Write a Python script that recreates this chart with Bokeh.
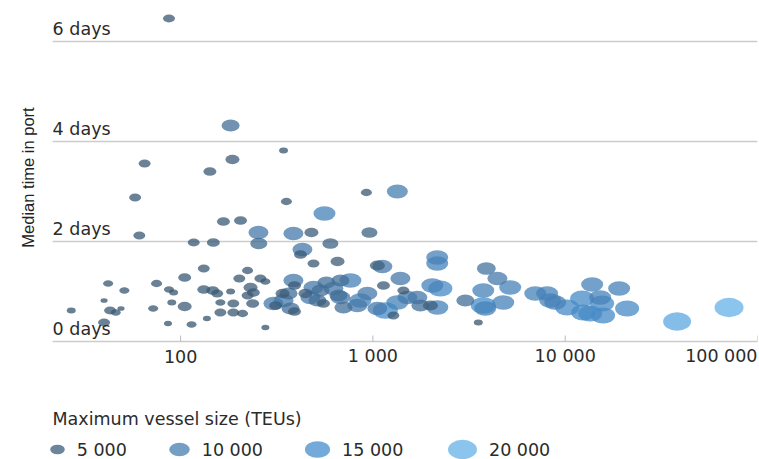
import numpy as np
import pandas as pd
from bokeh.plotting import figure
from bokeh.models import ColumnDataSource, Range1d, FixedTicker
from bokeh.layouts import column
from bokeh.core.properties import value
from bokeh.embed import file_html
from bokeh.resources import INLINE

# ---------------- data ----------------
port_calls = [87, 182, 65, 142, 186, 343, 58, 355, 925, 1340,
              560, 167, 205, 61, 254, 386, 479, 959, 117, 148,
              255, 601, 430, 420, 491, 655, 1055, 132, 223, 1120,
              2160, 2160, 3890, 4440, 27, 40, 42, 51, 40, 43,
              46, 49, 75, 87, 92, 72, 90, 105, 105, 86,
              114, 137, 132, 147, 155, 161, 161, 182, 188, 188,
              202, 210, 223, 231, 239, 237, 260, 276, 276, 304,
              312, 339, 364, 373, 391, 386, 391, 446, 473, 515,
              534, 553, 573, 623, 662, 678, 703, 764, 830, 861,
              936, 1055, 1135, 1161, 1278, 1390, 1440, 1340, 1511, 1703,
              1766, 1990, 2163, 2243, 2037, 3025, 3533, 3750, 3750, 3840,
              4764, 5176, 6985, 8055, 8356, 8870, 10240, 12250, 12400, 13810,
              15200, 15560, 13490, 15740, 19080, 20990, 38190, 71120, 491, 343,
              678]

median_days = [6.46, 4.32, 3.56, 3.40, 3.64, 3.82, 2.88, 2.80, 2.98, 3.00,
               2.56, 2.40, 2.42, 2.12, 2.18, 2.16, 2.18, 2.18, 1.98, 1.98,
               1.96, 1.96, 1.84, 1.74, 1.56, 1.60, 1.52, 1.46, 1.42, 1.50,
               1.68, 1.56, 1.46, 1.26, 0.62, 0.82, 1.16, 1.02, 0.38, 0.62,
               0.58, 0.66, 1.16, 1.04, 0.98, 0.66, 0.78, 1.28, 0.70, 0.36,
               0.34, 0.46, 1.04, 1.02, 0.96, 0.78, 0.58, 1.00, 0.76, 0.58,
               1.26, 0.56, 0.92, 1.08, 0.98, 0.76, 1.26, 1.20, 0.28, 0.76,
               0.72, 0.96, 0.96, 0.66, 0.60, 1.22, 1.12, 0.96, 0.88, 0.82,
               1.02, 0.76, 1.18, 1.06, 0.92, 1.22, 0.68, 1.22, 0.72, 0.82,
               0.96, 0.66, 1.12, 0.62, 0.52, 1.26, 1.02, 0.78, 0.88, 0.88,
               0.72, 0.72, 0.68, 1.06, 1.12, 0.82, 0.38, 1.02, 0.72, 0.66,
               0.78, 1.08, 0.96, 0.96, 0.82, 0.78, 0.68, 0.86, 0.58, 1.14,
               0.88, 0.76, 0.56, 0.52, 1.06, 0.66, 0.40, 0.68, 1.08, 0.82,
               0.88]

max_teu = [3400, 7700, 3400, 4000, 4700, 1900, 3400, 2900, 2900, 10500,
           11500, 4000, 4000, 3400, 9500, 9500, 4700, 6100, 3400, 4000,
           6900, 6100, 9500, 4000, 3400, 4700, 5400, 3400, 2900, 9500,
           11500, 11500, 8500, 9500, 1900, 1200, 2400, 2400, 3400, 3400,
           2400, 1200, 2900, 2400, 1900, 2400, 1900, 4000, 4700, 1500,
           2400, 1500, 4000, 4000, 3400, 2400, 3400, 1900, 3400, 3400,
           3400, 2900, 3400, 4700, 4000, 4000, 3400, 2400, 1500, 9500,
           4000, 4700, 7700, 7700, 4000, 9500, 4000, 4700, 9500, 7700,
           7700, 4000, 7700, 9500, 7700, 7700, 7700, 11500, 9500, 11500,
           9500, 9500, 4000, 14900, 3400, 9500, 3400, 11500, 9500, 9500,
           7700, 5400, 11500, 13700, 11500, 7700, 1900, 11500, 14900, 11500,
           11500, 11500, 11500, 11500, 11500, 11500, 13700, 13700, 13700, 11500,
           11500, 13700, 13700, 13700, 11500, 13700, 18600, 20000, 9500, 9500,
           9500]

x_ticks = [100, 1000, 10000, 100000]
y_ticks = [0, 2, 4, 6]
legend_teu = [5000, 10000, 15000, 20000]
y_axis_title = "Median time in port"
legend_title = "Maximum vessel size (TEUs)"

# ---------------- styling helpers ----------------
FONT = "DejaVu Sans"
FS = "17.5px"
TXT = "#2b2b2b"
GRID = "#cccccc"
RAMP_TEU = [0, 5000, 10000, 15000, 20000]
RAMP_RGB = [(52, 80, 104), (60, 92, 120), (70, 125, 175), (68, 142, 205), (100, 178, 232)]
ALPHA = 0.75
PX_PER_DAY = 50.0
TICK_PX = 6
FRAME_L, FRAME_R = 44, 2          # page borders shared by the stacked panels


def fmt(v):
    return f"{v:,}".replace(",", " ")


def teu_color(t):
    r, g, b = (int(round(np.interp(t, RAMP_TEU, [c[i] for c in RAMP_RGB]))) for i in range(3))
    return "#%02x%02x%02x" % (r, g, b)


def teu_w(t):
    return 29.0 * np.sqrt(np.asarray(t, dtype=float) / 20000.0)


df = pd.DataFrame(dict(x=port_calls, y=median_days, teu=max_teu))
df["w"] = teu_w(df["teu"])
df["h"] = df["w"] / 1.5
df["color"] = [teu_color(t) for t in df["teu"]]
df = df.sort_values("teu", ascending=False)
src = ColumnDataSource(df)

X_GRID_START, X_END = 21.6, 100000
X_START = 19.6                     # a few px of blank room left of the grid lines
Y_START, Y_END = -0.04, 6.6

p = figure(width=759, height=344, x_axis_type="log",
           x_range=Range1d(X_START, X_END), y_range=Range1d(Y_START, Y_END),
           output_backend="svg", toolbar_location=None,
           min_border_left=FRAME_L, min_border_right=FRAME_R, min_border_top=11, min_border_bottom=1)
p.outline_line_color = None
p.background_fill_color = "white"
p.xaxis.visible = False
p.grid.visible = False

# y axis only carries its title
p.yaxis.ticker = FixedTicker(ticks=y_ticks)
p.yaxis.major_label_overrides = {v: "" for v in y_ticks}
p.yaxis.axis_line_color = None
p.yaxis.major_tick_line_color = None
p.yaxis.minor_tick_line_color = None
p.yaxis.major_tick_in = 0
p.yaxis.major_tick_out = 0
p.yaxis.major_label_standoff = 0
p.yaxis.axis_label = y_axis_title
p.yaxis.axis_label_text_font = "Liberation Sans"
p.yaxis.axis_label_text_font_size = "16.5px"
p.yaxis.axis_label_text_font_style = "normal"
p.yaxis.axis_label_text_color = "#222222"
p.yaxis.axis_label_standoff = 8

# horizontal grid lines (starting where the day labels start)
n = len(y_ticks)
p.segment(x0=[X_GRID_START] * n, x1=[X_END] * n, y0=y_ticks, y1=y_ticks,
          line_color=GRID, line_width=1.5)

# small tick marks rising from the baseline at each decade
m = len(x_ticks)
p.segment(x0=x_ticks, x1=x_ticks, y0=[0] * m, y1=[TICK_PX / PX_PER_DAY] * m,
          line_color="#bbbbbb", line_width=1)

p.ellipse(x="x", y="y", width="w", height="h", width_units="screen", height_units="screen",
          fill_color="color", fill_alpha=ALPHA, line_color=None, source=src)

# day labels sitting on the grid lines
p.text(x=[X_GRID_START] * n, y=y_ticks, text=[f"{v} days" for v in y_ticks],
       text_align="left", text_baseline="bottom", y_offset=-3,
       text_font=value(FONT), text_font_size=FS, text_color=TXT)

# ---------------- x tick labels strip ----------------
xs = figure(width=759, height=40, x_axis_type="log", x_range=p.x_range, y_range=Range1d(0, 40),
            output_backend="svg", toolbar_location=None,
            min_border_left=FRAME_L, min_border_right=FRAME_R, min_border_top=0, min_border_bottom=0,
            x_axis_location=None, y_axis_location=None)
xs.outline_line_color = None
xs.grid.visible = False
xsrc = ColumnDataSource(dict(x=x_ticks, y=[28.5] * m, text=[fmt(v) for v in x_ticks],
                             align=["center"] * (m - 1) + ["right"]))
xs.text(x="x", y="y", text="text", text_align="align", text_baseline="middle",
        text_font=value(FONT), text_font_size=FS, text_color=TXT, source=xsrc)

# ---------------- legend strip ----------------
leg = figure(width=759, height=75, x_range=Range1d(FRAME_L, 759 - FRAME_R), y_range=Range1d(0, 75),
             output_backend="svg", toolbar_location=None,
             min_border_left=FRAME_L, min_border_right=FRAME_R, min_border_top=0, min_border_bottom=0,
             x_axis_location=None, y_axis_location=None)
leg.outline_line_color = None
leg.grid.visible = False

legend_x = [57, 179, 317, 462]   # layout positions of the legend markers (px)
lw = teu_w(legend_teu)
lsrc = ColumnDataSource(dict(x=legend_x, y=[10] * 4, w=lw, h=lw / 1.5,
                             color=[teu_color(t) for t in legend_teu],
                             tx=[xx + ww / 2 + 12 for xx, ww in zip(legend_x, lw)],
                             label=[fmt(t) for t in legend_teu]))
leg.ellipse(x="x", y="y", width="w", height="h", width_units="screen", height_units="screen",
            fill_color="color", fill_alpha=ALPHA, line_color=None, source=lsrc)
leg.text(x="tx", y="y", text="label", text_baseline="middle", text_align="left",
         text_font=value(FONT), text_font_size=FS, text_color=TXT, source=lsrc)
leg.text(x=[52], y=[41], text=[legend_title], text_baseline="middle", text_align="left",
         text_font=value(FONT), text_font_size=FS, text_color=TXT)

layout = column(p, xs, leg, spacing=0)
open("out.html", "w").write(file_html(layout, INLINE))
